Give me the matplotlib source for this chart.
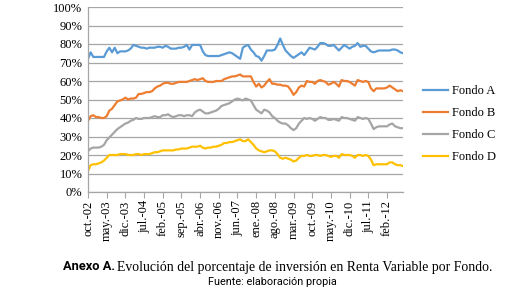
import numpy as np
import matplotlib
matplotlib.use('Agg')
import matplotlib.pyplot as plt

# --- data: monthly % invested in Renta Variable, oct-02 onwards ---
fondo_a = [72, 75.5, 73, 73, 73, 73, 73, 76, 78, 75.5,
           78, 75, 76, 76, 76, 76.5, 77.5, 79.5, 79, 78.5,
           78, 78, 77.5, 78, 78, 78, 78.5, 78.5, 78, 79,
           78.5, 77.5, 77.5, 77.5, 78, 78, 78.5, 79.5, 77, 79.5,
           79.5, 79.5, 79.5, 76, 74, 73.5, 73.5, 73.5, 73.5, 73.5,
           74, 74.5, 75, 75.5, 75, 74, 73, 72, 78, 79,
           79.5, 77, 75.5, 73.5, 73, 71, 73.5, 76.5, 76.5, 76.5,
           77, 79.5, 83, 79.5, 76.5, 75, 73.5, 72.5, 73.5, 74.5,
           75.5, 74, 76, 78, 77.5, 77, 78.5, 80.5, 80.5, 80,
           79, 79, 79.5, 78, 76.5, 78, 79.5, 78.5, 77.5, 78.5,
           79, 80.5, 78.5, 79, 79, 77.5, 76, 75.5, 76, 76.5,
           76.5, 76.5, 76.5, 76.5, 77, 77, 76.5, 75.5, 75]

fondo_b = [38.5, 41, 41.5, 40.5, 40.5, 40, 40, 41, 44, 45,
           47, 49, 49.5, 50, 51, 50, 50.5, 50.5, 51, 53,
           53, 53.5, 54, 54, 54.5, 56, 57, 57.5, 58.5, 59,
           59, 58.5, 58.5, 59, 59.5, 59.5, 59.5, 59.5, 60, 60.5,
           61, 60.5, 61, 61.5, 60, 59.5, 59.5, 59.5, 60, 60,
           60, 61, 61.5, 62, 62.5, 62.5, 63, 63.5, 62.5, 62.5,
           62.5, 62.5, 59.5, 57, 58.5, 56.5, 57.5, 59.5, 61, 58.5,
           58.5, 58, 58, 57.5, 57.5, 57, 55, 52.5, 54, 56.5,
           57.5, 57, 60, 59.5, 59.5, 58.5, 60, 60.5, 60, 59.5,
           58, 58.5, 59.5, 58.5, 57, 60.5, 60, 60, 59.5, 58.5,
           57.5, 60.5, 60, 59.5, 60, 59.5, 56, 54.5, 56, 56,
           56, 56, 56.5, 57.5, 56.5, 55.5, 54.5, 55, 54.5]

fondo_c = [22, 23.5, 24, 24, 24, 24.5, 25.5, 28, 29.5, 31,
           32.5, 34, 35, 36, 37, 37.5, 38.5, 39, 40, 39.5,
           39.5, 40, 40, 40, 40.5, 41, 40.5, 40.5, 41.5, 41.5,
           42, 41, 40.5, 41, 41.5, 41.5, 41, 41.5, 41.5, 41,
           43, 44, 44.5, 43.5, 42.5, 42.5, 43, 43.5, 44, 45,
           46.5, 47, 47.5, 48, 49, 50, 50.5, 50, 49.5, 50.5,
           50, 49.5, 47, 44.5, 43.5, 42.5, 44.5, 44, 43, 41,
           40, 38.5, 37.5, 37, 37, 36, 34.5, 33.5, 34.5, 37,
           38.5, 40, 39.5, 40, 39.5, 38.5, 39.5, 40.5, 40, 40,
           39, 39, 39.5, 39, 38.5, 40.5, 40, 40, 39.5, 39,
           38.5, 40.5, 40, 39.5, 40, 39.5, 37, 34, 35, 35.5,
           35.5, 35.5, 35.5, 36.5, 37, 35.5, 35, 34.5, 34.5]

fondo_d = [11.5, 14.5, 15, 15, 15.5, 16, 17, 18.5, 20, 20,
           20, 20, 20.5, 20.5, 20.5, 20, 20, 20, 20.5, 20.5,
           20, 20.5, 20.5, 20.5, 21, 21.5, 21.5, 22, 22.5, 22.5,
           22.5, 22.5, 22.5, 23, 23, 23.5, 23.5, 23.5, 24, 24.5,
           24.5, 24.5, 25, 24, 23.5, 24, 24, 24.5, 24.5, 25,
           25.5, 26.5, 26.5, 27, 27, 27.5, 28, 28.5, 27.5, 27.5,
           28.5, 27, 25.5, 23.5, 22.5, 22, 21.5, 22, 22.5, 22.5,
           22, 20.5, 18.5, 18, 18.5, 18, 17.5, 16.5, 17, 18.5,
           19.5, 19.5, 20, 19.5, 19.5, 20, 20, 19.5, 20, 20,
           19.5, 19, 19.5, 19.5, 18.5, 20.5, 20, 20, 20, 19.5,
           18.5, 20, 20, 19.5, 20, 19.5, 17.5, 14.5, 15, 15,
           15, 15, 15, 16, 16, 15, 14.5, 14.5, 14]

tick_labels = ['oct.-02', 'may.-03', 'dic.-03', 'jul.-04', 'feb.-05', 'sep.-05',
               'abr.-06', 'nov.-06', 'jun.-07', 'ene.-08', 'ago.-08', 'mar.-09',
               'oct.-09', 'may.-10', 'dic.-10', 'jul.-11', 'feb.-12']

series = [('Fondo A', fondo_a, '#5B9BD5'),
          ('Fondo B', fondo_b, '#ED7D31'),
          ('Fondo C', fondo_c, '#A5A5A5'),
          ('Fondo D', fondo_d, '#FFC000')]

plt.rcParams['font.family'] = 'Liberation Serif'
grid_col = '#a6a6a6'

fig = plt.figure(figsize=(5.25, 2.94), dpi=100)
ax = fig.add_axes([88 / 525, 1 - 192 / 294, 315 / 525, 185 / 294])

x = np.arange(len(fondo_a))
for name, vals, col in series:
    ax.plot(x, vals, color=col, lw=1.6, label=name, solid_joinstyle='round')

ax.set_xlim(0, len(fondo_a) - 1)
ax.set_ylim(0, 100)
ax.set_yticks(range(0, 101, 10))
ax.set_yticklabels(['%d%%' % v for v in range(0, 101, 10)], fontsize=9)
ax.set_xticks(range(0, 7 * len(tick_labels), 7))
ax.set_xticklabels(tick_labels, rotation=90, fontsize=9)

ax.grid(axis='y', color=grid_col, lw=0.9)
ax.set_axisbelow(True)
for s in ['top', 'right']:
    ax.spines[s].set_visible(False)
for s in ['left', 'bottom']:
    ax.spines[s].set_color(grid_col)
    ax.spines[s].set_linewidth(0.9)
ax.tick_params(axis='y', length=0, pad=4)
ax.tick_params(axis='x', length=4, color=grid_col, pad=2)

# legend to the right of the plot
fig.legend(loc='upper left', bbox_to_anchor=(423 / 525, 1 - 85 / 294),
           frameon=False, fontsize=9, handlelength=2.0, handletextpad=0.3,
           labelspacing=0.8, borderpad=0, borderaxespad=0)

# caption
fig.text(115 / 525, 1 - 267 / 294, 'Anexo A.', family='Roboto', weight='bold',
         fontsize=9.3, ha='right', va='center')
fig.text(117 / 525, 1 - 267 / 294,
         'Evolución del porcentaje de inversión en Renta Variable por Fondo.',
         fontsize=9.9, ha='left', va='center')
fig.text(272 / 525, 1 - 282 / 294, 'Fuente: elaboración propia',
         family='Roboto', fontsize=7.8, ha='center', va='center')

fig.savefig('out.png', dpi=100)
